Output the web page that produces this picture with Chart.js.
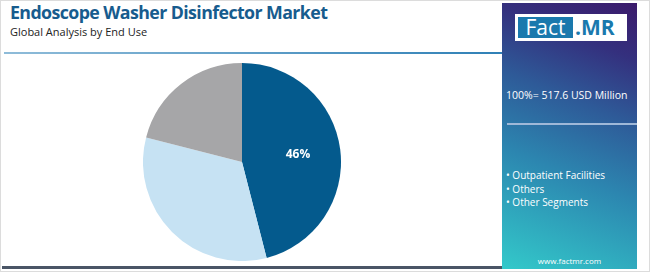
<!DOCTYPE html>
<html>
<head>
<meta charset="utf-8">
<script src="https://cdn.jsdelivr.net/npm/chart.js@4"></script>
<style>
  html, body { margin: 0; padding: 0; background: #fff; }
  body { width: 650px; height: 272px; position: relative; overflow: hidden; font-family: "Open Sans", sans-serif; }
  .frame { position: absolute; left: 0; top: 0; width: 648px; height: 270px; border: 1px solid #dcdcdc; }
  .title { position: absolute; left: 10px; top: 0px; font-size: 17.8px; font-weight: 700; color: #175c8e; white-space: nowrap; letter-spacing: -0.6px; }
  .subtitle { position: absolute; left: 10px; top: 24px; font-size: 11px; color: #222; white-space: nowrap; }
  .rule { position: absolute; left: 4px; top: 52px; width: 499px; height: 2px; background: linear-gradient(to right, #8fbcd9, #2f80b6); }
  .foot { position: absolute; left: 2px; top: 266px; width: 501px; height: 3px; background: #4a5566; }
  .panel { position: absolute; left: 502px; top: 3px; width: 135px; height: 266px;
    background: linear-gradient(22deg, #33c9ca 0%, #2c86b0 38%, #2e5a98 62%, #34307e 82%, #3b1a6b 100%); }
  .logo { position: absolute; left: 13px; top: 11px; width: 112px; height: 27px; background: #fff; }
  .logo .f { position: absolute; left: 3px; top: 3px; width: 55px; height: 21px; background: #1a79ad; color: #fff; font-size: 21px; line-height: 21px; text-align: center; }
  .logo .m { position: absolute; left: 60px; top: 3px; height: 21px; color: #1a79ad; font-size: 21px; line-height: 21px; font-weight: 700; }
  .total { position: absolute; left: 4px; top: 85px; color: #fff; font-size: 10.5px; white-space: nowrap; }
  .pline { position: absolute; left: 5px; top: 120px; width: 130px; height: 2px; background: #9fb8d8; }
  .legend { position: absolute; left: 4px; top: 166px; color: #fff; font-size: 10px; line-height: 13.5px; white-space: nowrap; }
  .site { position: absolute; left: 0; width: 135px; top: 252px; text-align: center; color: #fff; font-size: 8px; }
  .pie { position: absolute; left: 143px; top: 63px; width: 198px; height: 198px; }
</style>
</head>
<body>
<div class="frame"></div>
<div class="title">Endoscope Washer Disinfector Market</div>
<div class="subtitle">Global Analysis by End Use</div>
<div class="rule"></div>
<div class="foot"></div>
<div class="panel">
  <div class="logo"><div class="f">Fact</div><div class="m">.MR</div></div>
  <div class="total">100%= 517.6 USD Million</div>
  <div class="pline"></div>
  <div class="legend" id="legend"></div>
  <div class="site">www.factmr.com</div>
</div>
<div class="pie"><canvas id="pieChart"></canvas></div>
<script>
const segments = ['Outpatient Facilities', 'Others', 'Other Segments'];
const shares = [46, 33, 21];
const shownLabels = ['46%', '', ''];
const colors = ['#045a8d', '#c6e2f3', '#a6a6a8'];

document.getElementById('legend').innerHTML = segments.map(s => '&bull; ' + s).join('<br>');

// draws the percent text inside the slices that have one
const sliceLabels = {
  id: 'sliceLabels',
  afterDatasetsDraw(chart) {
    const ctx = chart.ctx;
    chart.getDatasetMeta(0).data.forEach((arc, i) => {
      if (!shownLabels[i]) return;
      const mid = (arc.startAngle + arc.endAngle) / 2;
      const r = arc.outerRadius * 0.57;
      ctx.save();
      ctx.fillStyle = '#fff';
      ctx.font = 'bold 12px "Open Sans", sans-serif';
      ctx.textAlign = 'center';
      ctx.textBaseline = 'middle';
      ctx.fillText(shownLabels[i], arc.x + Math.cos(mid) * r, arc.y + Math.sin(mid) * r);
      ctx.restore();
    });
  }
};

new Chart(document.getElementById('pieChart'), {
  type: 'pie',
  data: {
    labels: segments,
    datasets: [{
      data: shares,
      backgroundColor: colors,
      borderWidth: 0
    }]
  },
  options: {
    responsive: true,
    maintainAspectRatio: false,
    animation: false,
    layout: { padding: 0 },
    plugins: {
      legend: { display: false },
      tooltip: { enabled: false }
    }
  },
  plugins: [sliceLabels]
});
</script>
</body>
</html>
